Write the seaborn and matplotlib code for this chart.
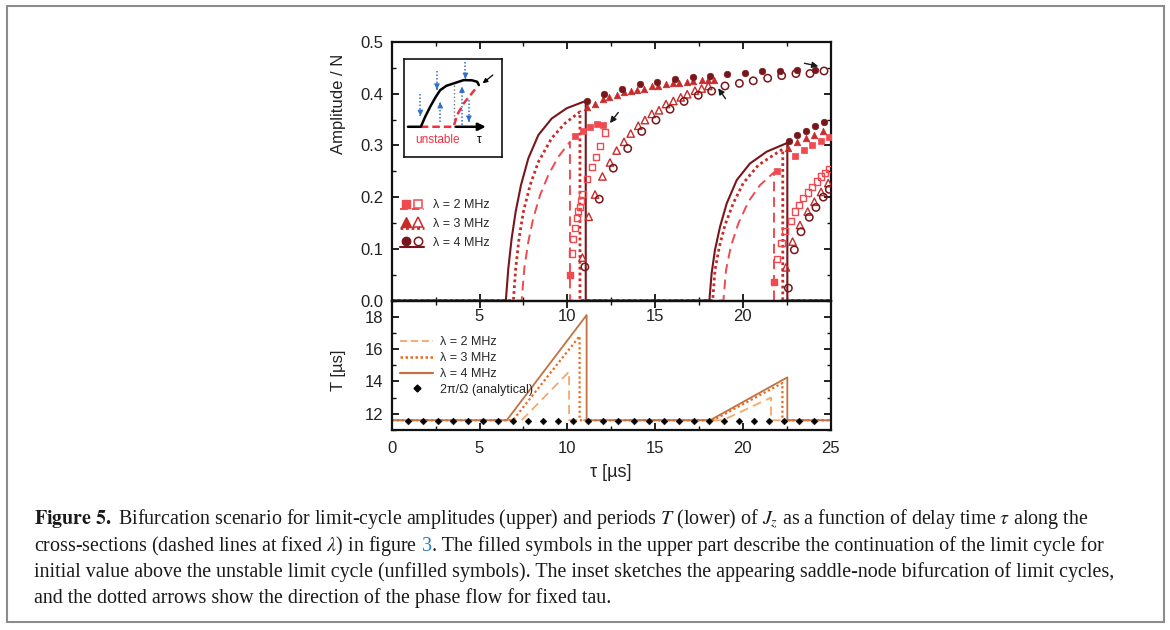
import numpy as np
import pandas as pd
import matplotlib
matplotlib.use("Agg")
import matplotlib.pyplot as plt
import seaborn as sns
from matplotlib.lines import Line2D
from matplotlib.legend_handler import HandlerBase
from matplotlib.patches import Rectangle
from matplotlib.ticker import MultipleLocator

sns.set_theme(style="white")
plt.rcParams['font.family'] = ['Liberation Sans', 'DejaVu Sans']
plt.rcParams['mathtext.fontset'] = 'stix'

# ---------------- data: upper panel (amplitude) ----------------
lam_labels = ["λ = 2 MHz", "λ = 3 MHz", "λ = 4 MHz"]

# continuous curves (λ = 4 solid, λ = 3 dotted, λ = 2 dashed)
tau_l4 = [0, 6.5, 6.64, 6.83, 7.06, 7.36, 7.78, 8.35, 9.11, 9.97, 11.05, 11.05,
          18.09, 18.22, 18.41, 18.7, 19.08, 19.65, 20.4, 21.36, 22.4, 22.53, 22.53, 25]
amp_l4 = [0, 0, 0.062, 0.120, 0.172, 0.223, 0.275, 0.320, 0.352, 0.372, 0.386, 0,
          0, 0.053, 0.098, 0.143, 0.188, 0.233, 0.265, 0.288, 0.303, 0.305, 0, 0]
tau_l3 = [0, 6.93, 7.06, 7.25, 7.5, 7.88, 8.35, 9.11, 9.87, 10.45, 10.72, 10.72,
          18.28, 18.41, 18.66, 18.98, 19.45, 20.02, 20.88, 21.73, 22.27, 22.27, 25]
amp_l3 = [0, 0, 0.062, 0.12, 0.172, 0.223, 0.268, 0.314, 0.343, 0.358, 0.365, 0,
          0, 0.059, 0.104, 0.146, 0.188, 0.227, 0.262, 0.281, 0.293, 0, 0]
tau_l2 = [0, 7.4, 7.55, 7.78, 8.06, 8.45, 8.92, 9.49, 10.15, 10.15,
          18.89, 19.04, 19.31, 19.74, 20.31, 20.97, 21.77, 21.77, 25]
amp_l2 = [0, 0, 0.062, 0.114, 0.159, 0.204, 0.243, 0.278, 0.307, 0,
          0, 0.059, 0.104, 0.149, 0.191, 0.223, 0.248, 0, 0]

# filled symbols (stable continuation)
tau_fc = [11.1, 12.11, 13.13, 14.14, 15.13, 16.13, 17.14, 18.13, 19.11, 20.12, 21.1, 22.11, 23.1, 24.1,
          22.6, 23.1, 23.6, 24.1, 24.6]
amp_fc = [0.385, 0.399, 0.41, 0.418, 0.423, 0.428, 0.432, 0.435, 0.438, 0.441, 0.443, 0.444, 0.445, 0.446,
          0.309, 0.32, 0.328, 0.337, 0.345]
tau_ft = [11.14, 11.58, 12.02, 12.39, 12.81, 13.23, 13.61, 13.99, 14.39, 14.81, 15.18, 15.62, 16.0,
          16.38, 16.8, 17.18, 17.65, 18.03, 18.35,
          22.59, 23.06, 23.59, 24.07, 24.58]
amp_ft = [0.375, 0.381, 0.389, 0.393, 0.397, 0.403, 0.405, 0.407, 0.41, 0.414, 0.415, 0.418, 0.42,
          0.421, 0.423, 0.425, 0.426, 0.426, 0.426,
          0.295, 0.306, 0.315, 0.32, 0.328]
tau_fs = [10.15, 10.44, 10.88, 11.29, 11.67, 12.05,
          21.77, 21.96, 22.97, 23.48, 23.95, 24.43, 24.9]
amp_fs = [0.049, 0.318, 0.328, 0.336, 0.341, 0.339,
          0.036, 0.251, 0.28, 0.292, 0.301, 0.308, 0.317]

# open symbols (unstable limit cycle)
tau_os = [10.15, 10.25, 10.34, 10.44, 10.53, 10.63, 10.72, 10.78, 10.86, 11.1, 11.39, 11.63, 11.86, 12.15,
          21.77, 21.96, 22.2, 22.4, 22.72, 22.97, 23.21, 23.44, 23.69, 23.95, 24.2, 24.43, 24.68, 24.91]
amp_os = [0.049, 0.091, 0.119, 0.141, 0.159, 0.173, 0.181, 0.192, 0.206, 0.235, 0.258, 0.278, 0.299, 0.325,
          0.036, 0.08, 0.112, 0.135, 0.154, 0.172, 0.185, 0.198, 0.209, 0.22, 0.23, 0.24, 0.246, 0.254]
tau_ot = [10.86, 11.22, 11.58, 12.0, 12.43, 12.81, 13.23, 13.61, 14.04, 14.42, 14.81, 15.22, 15.62,
          16.04, 16.46, 16.83, 17.27, 17.65, 18.03,
          22.45, 22.83, 23.25, 23.69, 24.07, 24.45, 24.86]
amp_ot = [0.083, 0.162, 0.205, 0.24, 0.267, 0.29, 0.307, 0.323, 0.338, 0.349, 0.361, 0.368, 0.38,
          0.386, 0.393, 0.399, 0.406, 0.41, 0.415,
          0.064, 0.114, 0.146, 0.172, 0.191, 0.21, 0.227]
tau_oc = [11.0, 11.82, 12.62, 13.44, 14.24, 15.05, 15.85, 16.65, 17.46, 18.22, 18.98, 19.8, 20.59,
          21.41, 22.21, 23.02, 23.82, 24.62,
          22.59, 22.93, 23.31, 23.78, 24.16, 24.58, 24.92]
amp_oc = [0.065, 0.196, 0.256, 0.294, 0.327, 0.349, 0.37, 0.385, 0.397, 0.405, 0.415, 0.42, 0.425,
          0.43, 0.435, 0.439, 0.439, 0.444,
          0.024, 0.098, 0.133, 0.161, 0.18, 0.2, 0.215]

# ---------------- data: lower panel (period) ----------------
tau_T4 = [0, 6.55, 11.1, 11.1, 18.13, 22.53, 22.53, 25]
T_4 = [11.6, 11.6, 18.1, 11.6, 11.6, 14.25, 11.6, 11.6]
tau_T3 = [0, 6.9, 10.7, 10.7, 18.3, 22.25, 22.25, 25]
T_3 = [11.6, 11.6, 16.8, 11.6, 11.6, 13.9, 11.6, 11.6]
tau_T2 = [0, 7.4, 10.1, 10.1, 18.85, 21.6, 21.6, 25]
T_2 = [11.6, 11.6, 14.6, 11.6, 11.6, 13.0, 11.6, 11.6]
tau_an = [0.91, 1.77, 2.63, 3.48, 4.34, 5.2, 6.05, 6.91, 7.77, 8.63, 9.48, 10.34,
          11.2, 12.05, 12.91, 13.77, 14.63, 15.48, 16.34, 17.2, 18.05, 18.91,
          19.77, 20.63, 21.48, 22.34, 23.2, 24.05]
T_an = [11.57] * len(tau_an)
lower_labels = ["λ = 2 MHz", "λ = 3 MHz", "λ = 4 MHz", "2π/Ω (analytical)"]

# ---------------- inset sketch ----------------
ins_black_x = [0.04, 0.171, 0.215, 0.266, 0.32, 0.368, 0.43, 0.505, 0.607, 0.69, 0.744, 0.761]
ins_black_y = [0.308, 0.308, 0.41, 0.513, 0.61, 0.684, 0.728, 0.753, 0.787, 0.785, 0.77, 0.736]
ins_red_x = [0.171, 0.505, 0.539, 0.607, 0.675, 0.744]
ins_red_y = [0.308, 0.308, 0.428, 0.548, 0.633, 0.719]
ins_blue_x = [0.167, 0.335, 0.368, 0.59, 0.625, 0.66]
ins_blue_from = [0.64, 0.88, 0.36, 0.33, 0.97, 0.58]
ins_blue_to = [0.42, 0.69, 0.56, 0.72, 0.80, 0.36]

# ---------------- colours ----------------
C2, C3, C4 = '#F04A50', '#C92A2A', '#78161A'
L2, L3, L4 = '#F7A66A', '#EA6A1E', '#C2713F'

fig = plt.figure(figsize=(11.7, 6.3), dpi=100)
ax1 = fig.add_axes([0.3348, 0.523, 0.3752, 0.4103])
ax2 = fig.add_axes([0.3348, 0.3175, 0.3752, 0.2055])
ax2.patch.set_alpha(0)
ax1.set_zorder(1)
ax1.patch.set_alpha(0)

# --- upper lines
sns.lineplot(x=tau_l2, y=amp_l2, ax=ax1, sort=False, estimator=None, color=C2,
             linestyle=(0, (5, 3)), linewidth=1.4)
sns.lineplot(x=tau_l3, y=amp_l3, ax=ax1, sort=False, estimator=None, color=C3,
             linestyle=(0, (1, 1.1)), linewidth=2.0)
sns.lineplot(x=tau_l4, y=amp_l4, ax=ax1, sort=False, estimator=None, color=C4,
             linewidth=1.5)

# --- upper symbols
sns.scatterplot(x=tau_fs, y=amp_fs, ax=ax1, marker='s', s=16, color=C2, edgecolor=C2, linewidth=0.5, zorder=4)
sns.scatterplot(x=tau_os, y=amp_os, ax=ax1, marker='s', s=20, color=C2, facecolors='none', edgecolor=C2, linewidth=1.0, zorder=4)
sns.scatterplot(x=tau_ft, y=amp_ft, ax=ax1, marker='^', s=22, color=C3, edgecolor=C3, linewidth=0.5, zorder=4)
sns.scatterplot(x=tau_ot, y=amp_ot, ax=ax1, marker='^', s=28, color=C3, facecolors='none', edgecolor=C3, linewidth=1.0, zorder=4)
sns.scatterplot(x=tau_fc, y=amp_fc, ax=ax1, marker='o', s=22, color=C4, edgecolor=C4, linewidth=0.5, zorder=4)
sns.scatterplot(x=tau_oc, y=amp_oc, ax=ax1, marker='o', s=28, color=C4, facecolors='none', edgecolor=C4, linewidth=1.1, zorder=4)

# arrows in upper panel
for tip, tail in [((12.33, 0.339), (13.0, 0.368)), ((18.5, 0.415), (19.1, 0.386)),
                  ((24.45, 0.452), (23.35, 0.46))]:
    ax1.annotate('', xy=tip, xytext=tail,
                 arrowprops=dict(arrowstyle='-|>', color='#1a1a1a', lw=1.0, mutation_scale=9))

ax1.set_xlim(0, 25)
ax1.set_ylim(0, 0.5)
ax1.set_xticks([0, 5, 10, 15, 20, 25])
ax1.set_xticklabels(['', '5', '10', '15', '20', ''])
ax1.xaxis.set_minor_locator(MultipleLocator(2.5))
ax1.set_yticks([0, 0.1, 0.2, 0.3, 0.4, 0.5])
ax1.set_yticklabels(['0.0', '0.1', '0.2', '0.3', '0.4', '0.5'])
ax1.yaxis.set_minor_locator(MultipleLocator(0.05))
ax1.set_ylabel('Amplitude / N', fontsize=12, color='#222222')
ax1.yaxis.set_label_coords(-0.105, 0.76)
ax1.set_xlabel('')


class LegEntry:
    def __init__(self, color, ls, lw, marker, ms):
        self.color, self.ls, self.lw, self.marker, self.ms = color, ls, lw, marker, ms


class StackHandler(HandlerBase):
    def create_artists(self, legend, h, xd, yd, width, height, fontsize, trans):
        x0, y0 = -xd, -yd
        ln = Line2D([x0, x0 + width], [y0 - 0.05 * height] * 2, color=h.color,
                    linestyle=h.ls, linewidth=h.lw, transform=trans)
        m1 = Line2D([x0 + 0.22 * width], [y0 + 0.55 * height], marker=h.marker, markersize=h.ms,
                    color=h.color, markerfacecolor=h.color, markeredgecolor=h.color,
                    linestyle='none', transform=trans)
        m2 = Line2D([x0 + 0.72 * width], [y0 + 0.55 * height], marker=h.marker, markersize=h.ms,
                    markeredgecolor=h.color, markerfacecolor='none', markeredgewidth=1.1,
                    linestyle='none', transform=trans)
        return [ln, m1, m2]


leg_entries = [LegEntry(C2, (0, (4, 2)), 1.4, 's', 5.5),
               LegEntry(C3, (0, (1, 1)), 2.0, '^', 6.5),
               LegEntry(C4, '-', 1.5, 'o', 6)]
leg1 = ax1.legend(leg_entries, lam_labels, handler_map={LegEntry: StackHandler()},
                  loc='upper left', bbox_to_anchor=(0.0, 0.425), frameon=False, fontsize=9,
                  handlelength=1.9, handletextpad=0.7, labelspacing=0.55, borderaxespad=0.3)

# --- inset
axi = ax1.inset_axes([0.028, 0.556, 0.224, 0.377])
axi.set_xlim(0, 1)
axi.set_ylim(0, 1)
axi.set_xticks([])
axi.set_yticks([])
axi.set_facecolor('white')
for s in axi.spines.values():
    s.set_color('#111111')
    s.set_linewidth(1.2)
sns.lineplot(x=ins_red_x, y=ins_red_y, ax=axi, sort=False, estimator=None, color='#F03040',
             linestyle=(0, (3, 1.6)), linewidth=1.8)
sns.lineplot(x=ins_black_x, y=ins_black_y, ax=axi, sort=False, estimator=None, color='black',
             linewidth=1.8)
axi.plot([0.505, 0.505], [0.308, 0.753], color='#777777', linestyle=':', linewidth=1.0)
axi.annotate('', xy=(0.86, 0.308), xytext=(0.5, 0.308),
             arrowprops=dict(arrowstyle='-|>', color='black', lw=1.8, mutation_scale=11))
axi.annotate('', xy=(0.778, 0.736), xytext=(0.925, 0.857),
             arrowprops=dict(arrowstyle='-|>', color='black', lw=0.9, mutation_scale=7))
for bx, b0, b1 in zip(ins_blue_x, ins_blue_from, ins_blue_to):
    axi.plot([bx, bx], [b0, b1], color='#2F6FC4', lw=1.1, linestyle=(0, (1, 1.3)))
    axi.annotate('', xy=(bx, b1), xytext=(bx, b1 + 0.6 * (b0 - b1) * 0.15),
                 arrowprops=dict(arrowstyle='-|>', color='#2F6FC4', lw=0.8,
                                 mutation_scale=8, shrinkA=0, shrinkB=0))
axi.text(0.34, 0.17, 'unstable', color='#F03040', fontsize=8.5, ha='center', va='center')
axi.text(0.76, 0.17, 'τ', color='black', fontsize=8.5, ha='center', va='center')

# --- lower panel
sns.lineplot(x=tau_T2, y=T_2, ax=ax2, sort=False, estimator=None, color=L2,
             linestyle=(0, (5, 3)), linewidth=1.3)
sns.lineplot(x=tau_T3, y=T_3, ax=ax2, sort=False, estimator=None, color=L3,
             linestyle=(0, (1, 1.2)), linewidth=1.6)
sns.lineplot(x=tau_T4, y=T_4, ax=ax2, sort=False, estimator=None, color=L4, linewidth=1.3)
sns.scatterplot(x=tau_an, y=T_an, ax=ax2, marker='D', s=12, color='black', edgecolor='black',
                linewidth=0.3, zorder=4)
ax2.set_xlim(0, 25)
ax2.set_ylim(11.0, 19.0)
ax2.set_xticks([0, 5, 10, 15, 20, 25])
ax2.xaxis.set_minor_locator(MultipleLocator(2.5))
ax2.set_yticks([12, 14, 16, 18])
ax2.yaxis.set_minor_locator(MultipleLocator(1))
ax2.set_ylabel('T [µs]', fontsize=12, color='#222222')
ax2.yaxis.set_label_coords(-0.105, 0.46)
ax2.set_xlabel('τ [µs]', fontsize=13, color='#222222', labelpad=6)

h2 = [Line2D([], [], color=L2, linestyle=(0, (4, 2)), lw=1.3),
      Line2D([], [], color=L3, linestyle=(0, (1, 1)), lw=1.8),
      Line2D([], [], color=L4, lw=1.6),
      Line2D([], [], color='black', marker='D', markersize=3.5, linestyle='none')]
ax2.legend(h2, lower_labels, loc='upper left', bbox_to_anchor=(0.0, 0.79), frameon=False,
           fontsize=9, handlelength=2.6, handletextpad=0.6, labelspacing=0.3,
           borderaxespad=0.3)

for ax in (ax1, ax2):
    for s in ax.spines.values():
        s.set_color('#111111')
        s.set_linewidth(1.6)
    ax.tick_params(which='both', direction='in', top=True, right=True, bottom=True, left=True,
                   colors='#111111', labelcolor='#222222')
    ax.tick_params(which='major', length=5, width=1.3, labelsize=12)
    ax.tick_params(which='minor', length=3, width=1.0)
    ax.tick_params(axis='y', which='both', pad=6)
    ax.grid(False)
ax1.tick_params(axis='x', which='both', pad=6)
ax2.tick_params(axis='x', which='both', pad=8)

# --- figure frame
fig.patches.append(Rectangle((0.006, 0.012), 0.989, 0.978, transform=fig.transFigure,
                             fill=False, edgecolor='#8c8c8c', linewidth=1.5))

# --- caption
cap_fs = 14.4
cap_kw = dict(family=['Liberation Serif', 'DejaVu Serif'], fontsize=cap_fs, color='#1a1a1a',
              va='center', ha='left')
x0 = 0.029
fig.text(x0, 0.176, r"$\mathbf{Figure\ 5.}$ Bifurcation scenario for limit-cycle amplitudes (upper) and periods $T$ (lower) "
                    r"of $J_z$ as a function of delay time $\tau$ along the", **cap_kw)
t2 = fig.text(x0, 0.1333, r"cross-sections (dashed lines at fixed $\lambda$) in figure", **cap_kw)
a3 = ax2.annotate("3", xy=(1, 0.5), xycoords=t2, xytext=(3.6, 0), textcoords='offset points',
                  va='center', ha='left', family=['Liberation Serif'], fontsize=cap_fs,
                  color='#2B7BB9', annotation_clip=False)
ax2.annotate(". The filled symbols in the upper part describe the continuation of the limit cycle for",
             xy=(1, 0.5), xycoords=a3, va='center', ha='left',
             family=['Liberation Serif'], fontsize=cap_fs, color='#1a1a1a',
             annotation_clip=False)
fig.text(x0, 0.0921, "initial value above the unstable limit cycle (unfilled symbols). The inset sketches the "
                     "appearing saddle-node bifurcation of limit cycles,", **cap_kw)
fig.text(x0, 0.0508, "and the dotted arrows show the direction of the phase flow for fixed tau.", **cap_kw)

fig.savefig('out.png', dpi=100)
